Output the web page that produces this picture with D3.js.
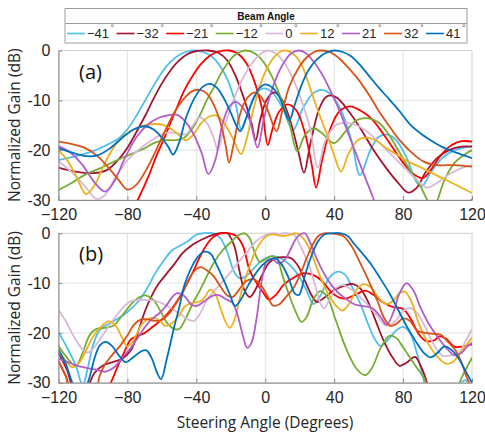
<!DOCTYPE html>
<html>
<head>
<meta charset="utf-8">
<script src="https://cdn.jsdelivr.net/npm/d3@7/dist/d3.min.js"></script>
<style>
  html, body { margin: 0; padding: 0; background: #fff; }
  svg { display: block; }
</style>
</head>
<body>
<svg id="chart" width="485" height="435"></svg>
<script>
// Beam steering angles (degrees) and their line colours
const beamAngles = ["−41", "−32", "−21", "−12", "0", "12", "21", "32", "41"];
const beamColors = ["#4DBEEE", "#A2142F", "#FF0000", "#77AC30", "#D8B9D6", "#EDB120", "#B25CCB", "#D95319", "#0072BD"];

// Axis ticks
const xTicks = [-120, -80, -40, 0, 40, 80, 120];
const xTickLabels = ["−120", "−80", "−40", "0", "40", "80", "120"];
const yTicks = [0, -10, -20, -30];
const yTickLabels = ["0", "-10", "-20", "-30"];

// (a) simulated patterns: [steering angle, normalized gain dB]
const simM41 = [[-120,-22],[-110,-21.2],[-100,-20.2],[-90,-18.6],[-85,-17.6],[-80,-15.8],[-75,-13.2],[-70,-10.2],[-65,-7.2],[-60,-4.4],[-55,-2.3],[-50,-0.9],[-45,-0.2],[-41,0],[-36,-0.3],[-31,-1.2],[-26,-3.2],[-21,-6.6],[-17,-11],[-14,-15.8],[-11,-13.5],[-6,-9],[-1,-7.6],[4,-8.4],[10,-11.5],[16,-16],[22,-11.5],[28,-8.5],[33,-7.9],[38,-8.8],[44,-12],[50,-18],[55,-25],[61,-20],[66,-17.3],[71,-16.9],[76,-18],[82,-21.5],[88,-26.5],[91,-27.2],[96,-24.5],[103,-21.5],[110,-20],[120,-19.2]];
const simM32 = [[-120,-23.5],[-110,-24.3],[-100,-24.6],[-92,-24],[-85,-21.8],[-80,-19.5],[-75,-16.5],[-70,-13.3],[-65,-9.8],[-60,-6.6],[-55,-4],[-50,-2],[-45,-0.7],[-40,-0.1],[-33,0],[-27,-0.5],[-22,-2],[-17,-5.3],[-12,-10],[-8,-14.5],[-5.5,-18],[-3,-14],[1,-9.8],[5,-8.4],[9,-9.5],[14,-13.5],[19,-20],[22.5,-24.5],[26,-19],[31,-12],[35,-9.4],[38,-9],[42,-9.6],[48,-12],[55,-15.5],[62,-19.5],[70,-23.5],[77,-26.5],[83,-28.5],[88,-27.5],[93,-24.5],[100,-21.5],[108,-19.8],[114,-19.3],[120,-19.3]];
const simM21 = [[-84,-37],[-74,-30],[-70,-27],[-67,-24.6],[-63,-21],[-59,-17.9],[-55,-14.5],[-51,-11.2],[-47,-8],[-42,-5],[-37,-2.6],[-32,-1],[-27,-0.2],[-21,0],[-16,-0.6],[-11,-2.5],[-6,-6.5],[-2,-11.5],[1.5,-19],[4,-16],[8,-12.3],[13,-10.8],[18,-12],[23,-16.5],[27,-23],[29.5,-27.5],[33,-22],[38,-15.5],[43,-12.2],[49,-11.2],[55,-12],[62,-13.8],[68,-16.5],[74,-19.5],[80,-22.5],[86,-24.8],[91.5,-25.6],[96,-24],[102,-21],[108,-19],[114,-18.2],[120,-18.3]];
const simM12 = [[-120,-28],[-112,-26.5],[-105,-25],[-95,-23.5],[-86,-22],[-78,-20.8],[-71,-19.8],[-64,-18.5],[-58,-18],[-52,-18],[-47,-17.5],[-42,-15.5],[-38,-13],[-34,-10],[-30,-7.5],[-26,-4.8],[-22,-2.6],[-18,-1],[-14,-0.2],[-11,0],[-6,-0.6],[-1,-2.3],[4,-5.3],[9,-9.5],[14,-14.5],[18.5,-20.2],[23,-17],[28,-15.6],[33,-16.6],[40,-18.6],[46,-16.5],[53,-14],[60,-13.6],[66,-14.5],[72,-17],[78,-20.5],[84,-24],[90,-27.2],[94,-30],[97,-32],[100,-30],[104,-26],[110,-22.5],[116,-20.8],[120,-20]];
const sim0 = [[-120,-22.2],[-112,-24.5],[-104,-27.5],[-98,-29.8],[-93,-29],[-87,-25.5],[-80,-22],[-72,-19.5],[-64,-17.6],[-57,-16.5],[-51,-16.6],[-46,-16.8],[-42,-15],[-38,-13.4],[-34,-14.5],[-30,-17.5],[-27.5,-20],[-24,-15.5],[-19,-10.5],[-14,-6.3],[-9,-3.2],[-4,-1.1],[1,0],[6,-0.6],[11,-2.4],[16,-5.6],[21,-10],[26,-15.5],[30.5,-23.5],[35,-18],[41,-15],[47,-14.5],[53,-15],[60,-16.5],[67,-18.8],[74,-21.2],[81,-23.6],[88,-26],[94,-27.5],[100,-26.5],[107,-24.8],[114,-23.6],[120,-23]];
const sim12 = [[-120,-20],[-115,-22],[-110,-25],[-104,-28.8],[-99,-27],[-93,-22.5],[-86,-18.5],[-79,-16.3],[-72,-15.2],[-66,-14.8],[-61,-14.8],[-56,-15.4],[-50,-17],[-46,-18],[-42,-17],[-37,-14.5],[-32,-13.2],[-28,-13.1],[-24,-14.5],[-19,-17.5],[-14,-20.8],[-11,-18],[-7,-12],[-3,-7],[1,-3.6],[5,-1.4],[9,-0.2],[12,0],[16,-0.6],[21,-2.8],[26,-7.5],[31,-12.5],[36,-17],[40,-21],[44,-24.3],[48,-21],[53,-18.2],[58,-17.5],[64,-18],[70,-19.5],[76,-20.8],[83,-22.3],[90,-23.4],[98,-24.8],[105,-26],[112,-27.2],[120,-28.6]];
const sim21 = [[-120,-19.2],[-113,-20.5],[-106,-23],[-99,-26.5],[-93,-28.3],[-88,-26.5],[-82,-22],[-75,-17.5],[-68,-14.8],[-61,-13.4],[-55,-12.9],[-51,-12.9],[-47,-14],[-42,-16.5],[-37,-20.5],[-33,-24.8],[-29,-22],[-25,-15],[-21,-11.3],[-17,-10.3],[-13,-11.5],[-9,-14],[-4.5,-19.5],[-1,-14],[3,-8.8],[7,-5],[11,-2.3],[15,-0.6],[19,0],[23,-0.4],[28,-2.2],[33,-4.8],[38,-8.2],[43,-12],[48,-16.5],[53,-21],[58,-25.5],[62,-29],[66,-33],[72,-39],[90,-45],[108,-38],[115,-33],[120,-29.8]];
const sim32 = [[-120,-18.3],[-112,-18.8],[-105,-19.5],[-98,-21],[-91,-23.5],[-85,-26],[-80,-27.9],[-75,-27],[-70,-24.5],[-64,-20.5],[-58,-16],[-52,-12],[-46,-9.2],[-42,-8.1],[-38,-7.9],[-34,-8.6],[-30,-10.8],[-26,-14.5],[-23,-19],[-21,-22.5],[-18.5,-19],[-15,-13.2],[-11,-9.8],[-6,-8.4],[-2,-9.5],[2,-12.5],[6.5,-16.2],[10,-12],[14,-7.2],[19,-3.7],[24,-1.4],[29,-0.2],[33,0],[38,-0.4],[43,-1.6],[48,-3.4],[54,-5.8],[60,-8.8],[66,-12.2],[72,-15.2],[78,-18],[85,-20.5],[92,-22.3],[100,-23],[110,-23],[120,-23.3]];
const sim41 = [[-120,-19.6],[-112,-20.5],[-104,-21.2],[-97,-21],[-90,-19.6],[-83,-17.5],[-76,-15.8],[-70,-15.2],[-65,-15.8],[-60,-17.5],[-56,-19.5],[-53.5,-20.9],[-50,-18.5],[-46,-13.5],[-41,-9.5],[-36,-7.2],[-32,-6.7],[-28,-7.5],[-24,-9.6],[-20,-12.5],[-16,-15.6],[-14.5,-16.2],[-11,-13.5],[-7,-9.8],[-3,-7.4],[0,-6.8],[4,-7.4],[8,-9.2],[11,-11.8],[14,-14],[17,-11],[21,-7],[25,-4],[30,-1.8],[35,-0.5],[40,0],[45,-0.3],[50,-1.2],[55,-2.9],[60,-5],[66,-7.5],[72,-9.8],[78,-12.2],[84,-14.8],[90,-16.6],[96,-18],[103,-19.4],[110,-20.4],[120,-21.6]];

// (b) measured patterns: [steering angle, normalized gain dB]
const meaM41 = [[-120,-19.8],[-115,-23],[-110,-26.5],[-106,-30.5],[-103,-27],[-100,-22.5],[-96,-19.4],[-91,-18.2],[-87,-17.4],[-80,-15.8],[-73,-13.4],[-68,-10.7],[-64,-8.1],[-59,-5.5],[-54,-3.4],[-49,-2.4],[-45,-1.6],[-40,-0.3],[-36,0],[-30,0],[-26,-1],[-22,-3.8],[-18,-7.8],[-15,-9],[-11,-8.6],[-6,-6.8],[-1,-5.2],[4,-4.6],[9,-5],[14,-6.3],[19,-8.3],[24,-11.5],[28,-14.2],[32,-12.5],[37,-9],[42,-7.7],[46,-8.2],[50,-10.5],[55,-14],[60,-18.5],[64,-21.5],[67,-22.6],[71,-21.5],[76,-19.5],[80,-18.8],[84,-20],[88,-24],[92,-29.5],[95,-34],[108,-34],[113,-30.5],[116,-29.5],[120,-31]];
const meaM32 = [[-120,-24],[-115,-27.5],[-111,-31],[-104,-31],[-99,-28],[-94,-26.5],[-88,-25.8],[-83,-25.2],[-78,-23.5],[-74,-20],[-70,-15.8],[-66,-12.6],[-62,-10.2],[-57,-8],[-53,-6.3],[-48,-4],[-43,-2.5],[-37,-1.3],[-32,-0.5],[-27,0],[-22,0],[-18,-2.5],[-15,-7.5],[-12,-11.5],[-9,-12.8],[-6,-11.5],[-2,-8.5],[2,-6],[6,-5],[11,-4.8],[15,-5],[19,-6.5],[23,-9.5],[27,-12.5],[30,-13.8],[34,-13],[40,-11.4],[46,-10.5],[51,-10.2],[55,-11],[60,-14],[64,-17.5],[69,-21.8],[74,-25],[78,-26.6],[82,-26],[87,-24.8],[90,-26.5],[93,-29],[96,-33],[100,-38]];
const meaM21 = [[-120,-25.6],[-116,-28.5],[-112,-31.5],[-96,-33],[-90,-30.2],[-86,-27],[-82,-24],[-78,-21.3],[-74,-20.6],[-70,-20],[-64,-18.4],[-59,-17],[-54,-15],[-50,-13],[-46,-10.5],[-42,-7.8],[-38,-4.8],[-34,-2.3],[-30,-0.7],[-26,0],[-21,0],[-17,-0.5],[-13,-2.5],[-9,-7.5],[-5,-10],[-1,-12],[2,-13.3],[6,-12.4],[11,-10.2],[16,-9],[22,-8],[28,-8.4],[33,-9.6],[38,-11.7],[43,-12.9],[47,-13.1],[53,-12.2],[58,-11.5],[63,-12.4],[68,-13.8],[74,-14.8],[80,-15.2],[85,-17.5],[89,-20.2],[93,-21.6],[98,-21.5],[101,-20.7],[105,-21.2],[110,-22.8],[115,-22.7],[120,-22.3]];
const meaM12 = [[-120,-22.6],[-115,-25],[-110,-26.6],[-106,-24],[-102,-20.5],[-98,-19.2],[-93,-19],[-88,-18.5],[-83,-16.5],[-78,-14.3],[-73,-12.8],[-69,-12.5],[-65,-13.3],[-61,-15.5],[-57,-18],[-53,-19.2],[-50,-19.2],[-46,-17],[-42,-14],[-38,-11.5],[-34,-8.7],[-30,-6],[-25,-3.5],[-20,-1.8],[-16,-0.5],[-12,0],[-9,-1],[-6,-4],[-3,-5.8],[0,-5.2],[4,-4.6],[7,-5.2],[10,-8.5],[14,-12.5],[18,-16],[21,-17.8],[24,-16.8],[28,-13.2],[32,-11.6],[36,-12.8],[40,-16.5],[44,-20.5],[48,-24],[53,-27.2],[58,-28.5],[62,-27],[67,-23],[72,-20.6],[76,-21],[80,-22.9],[85,-25.5],[88,-27],[92,-29],[96,-32],[108,-34],[114,-29],[120,-25]];
const mea0 = [[-120,-15.4],[-116,-17.5],[-111,-20.8],[-106,-23.3],[-103,-24],[-99,-22.8],[-94,-20.3],[-89,-17.7],[-84,-15.5],[-79,-13.8],[-74,-13.4],[-69,-13.4],[-64,-13.5],[-59,-14.2],[-54,-15.2],[-49,-16.3],[-45,-17.3],[-41.5,-17.6],[-38,-16.2],[-34,-13.5],[-30,-11.7],[-25,-9.8],[-20,-7.8],[-15,-5.6],[-10,-3.5],[-5,-1.5],[0,-0.4],[3,0],[8,-0.1],[13,0],[17,-0.4],[20,-2.2],[23,-4.5],[26,-7],[29,-10.5],[32,-14],[34,-15.1],[37,-13.5],[41,-11],[45,-10.4],[50,-11.3],[55,-12.8],[60,-14.5],[65,-16.6],[70,-18.5],[75,-17.8],[80,-15.6],[84,-15],[88,-16],[93,-18.9],[98,-22.5],[103,-24.6],[108,-24.5],[112,-24.3],[116,-21.8],[120,-19.3]];
const mea12 = [[-120,-23.6],[-116,-25.5],[-112,-26.9],[-108,-26],[-104,-23.5],[-100,-20.8],[-96,-19],[-91,-17.7],[-87,-18.5],[-83,-21],[-80,-22.7],[-77,-21.8],[-74,-19.8],[-71,-18],[-66,-17],[-62,-17.3],[-58,-18.6],[-54,-18],[-50,-16.5],[-47,-14.8],[-43,-14],[-38,-13.7],[-35,-12.8],[-32,-11.3],[-29,-12.2],[-26,-15],[-23,-17.8],[-20.5,-19],[-18,-17.5],[-14,-12],[-10,-7.5],[-6,-3.8],[-2,-1.5],[1,-0.5],[5,-0.2],[9,-0.5],[13,-0.4],[18,0],[22,-1],[26,-3.3],[30,-7],[33.5,-10],[37,-12.5],[41,-14.5],[45,-15.5],[49,-14],[53,-11.3],[57,-10.2],[61,-10.8],[66,-13],[70,-14.2],[74,-13.6],[78,-12],[81,-11.7],[85,-13.8],[89,-18],[95,-22.4],[100,-24.8],[105,-26.2],[109,-25.8],[114,-23.6],[120,-21]];
const mea21 = [[-120,-25.2],[-115,-25.8],[-110,-26.5],[-104,-27],[-98,-27.4],[-93,-27.8],[-88,-27],[-83,-25],[-78,-23],[-74,-21],[-70,-18.9],[-66,-17.3],[-62,-16.2],[-58,-14.8],[-54,-12.8],[-51,-12],[-47,-12.6],[-43,-14.3],[-40,-14.6],[-36,-13.8],[-31,-12.6],[-27,-12.4],[-23,-13.2],[-19,-14],[-16,-16.5],[-13,-20.5],[-10.5,-23],[-8,-22],[-5,-17],[-2,-9.5],[1,-5.5],[4,-5.2],[8,-6.1],[12,-5],[15,-3],[18,-1],[21,-0.1],[23,0],[26,-1.8],[30,-5.2],[34,-8],[38,-10.2],[42,-11.8],[47,-13.2],[52,-14.3],[57,-14.6],[62,-15],[67,-16.8],[70.5,-18.4],[74,-16.2],[78,-12],[82,-10],[86,-11.5],[90,-14.8],[95,-18.2],[100,-20.8],[105,-23],[110,-24.5],[114,-24],[117,-22.8],[120,-22]];
const mea32 = [[-120,-25.8],[-116,-28.5],[-112,-32],[-100,-33],[-96,-28.5],[-93,-26.3],[-89,-24.5],[-84,-22.5],[-80,-20.5],[-76,-18.3],[-72,-17.3],[-68,-17.3],[-64,-17.6],[-60,-17.4],[-56,-16.2],[-52,-14.2],[-48,-12],[-44,-9],[-40,-7.2],[-37.5,-6.8],[-34,-7.4],[-30,-8.6],[-26,-10.7],[-22,-12.5],[-19,-12.8],[-15,-11.2],[-11,-9.6],[-7,-9.2],[-3,-10.2],[1,-12.4],[4.5,-14.5],[8,-14.3],[12,-12.8],[16,-11.2],[20,-8.5],[24,-5],[28,-2],[31,-0.5],[34,0],[40,-0.1],[45,-0.5],[50,-2.5],[55,-5.9],[60,-9.5],[65,-13.5],[69,-17],[72.5,-18.6],[76,-18.2],[80,-17.1],[84,-17.6],[88,-19.5],[93,-20],[98,-20.2],[102,-20.4],[106,-21.8],[110,-23.3],[114,-26],[117,-29],[120,-31]];
const mea41 = [[-120,-23.3],[-116,-26],[-112,-30],[-108,-33],[-103,-30],[-99,-25],[-96,-22.5],[-92.5,-21.8],[-89,-22.6],[-85,-24.5],[-81,-25.9],[-77,-25],[-72,-23.7],[-69,-23.5],[-66,-25],[-63,-27.8],[-60.5,-29.3],[-57,-25],[-53,-19],[-50,-15],[-47,-10.5],[-43,-7],[-39,-4.7],[-35.5,-3.7],[-32,-4],[-28,-6.5],[-24,-9.5],[-20.5,-12.3],[-17.5,-14.6],[-14,-13.2],[-10,-10.5],[-6,-8.3],[-2,-6.5],[2,-5.4],[5.5,-5],[9,-6],[13,-8.5],[17,-12],[19.5,-12.4],[23,-8.5],[26,-5.3],[30,-2],[34,-0.3],[38,0],[44,0],[48,-0.6],[52,-2.3],[57,-4.3],[62,-6.5],[67,-9.2],[72,-12],[77,-15.3],[82,-18.6],[87,-21.5],[92,-24],[96,-24.9],[100,-24],[104,-22.7],[108,-23.4],[112,-25],[116,-27.5],[120,-30]];

const simSeries = [simM41, simM32, simM21, simM12, sim0, sim12, sim21, sim32, sim41];
const meaSeries = [meaM41, meaM32, meaM21, meaM12, mea0, mea12, mea21, mea32, mea41];

const svg = d3.select("#chart");
const tickFont = "'Liberation Sans', Arial, sans-serif";
const labelFont = "'Open Sans', 'Noto Sans', sans-serif";
const textColor = "#262626";

const x = d3.scaleLinear().domain([-120, 120]).range([58.5, 472]);

const panels = [
  { id: "a", tag: "(a)", data: simSeries, top: 50.5, bottom: 200 },
  { id: "b", tag: "(b)", data: meaSeries, top: 233.3, bottom: 382.7 }
];

const line = d3.line().curve(d3.curveCatmullRom.alpha(0.5));

panels.forEach(p => {
  const y = d3.scaleLinear().domain([-30, 0]).range([p.bottom, p.top]);
  const g = svg.append("g");
  const [x0, x1] = x.range();

  // grid
  g.append("g").selectAll("line").data(xTicks.slice(1, -1)).join("line")
    .attr("x1", d => x(d)).attr("x2", d => x(d))
    .attr("y1", p.top).attr("y2", p.bottom)
    .attr("stroke", "#e3e3e3").attr("stroke-width", 1);
  g.append("g").selectAll("line").data(yTicks.slice(1, -1)).join("line")
    .attr("x1", x0).attr("x2", x1)
    .attr("y1", d => y(d)).attr("y2", d => y(d))
    .attr("stroke", "#e3e3e3").attr("stroke-width", 1);

  // frame
  g.append("rect").attr("x", x0).attr("y", p.top)
    .attr("width", x1 - x0).attr("height", p.bottom - p.top)
    .attr("fill", "none").attr("stroke", "#d0d0d0").attr("stroke-width", 1);

  // curves
  const clipId = "clip-" + p.id;
  svg.append("clipPath").attr("id", clipId).append("rect")
    .attr("x", x0).attr("y", p.top - 1.5)
    .attr("width", x1 - x0).attr("height", p.bottom - p.top + 1.5);
  const lineGen = line.x(d => x(d[0])).y(d => y(d[1]));
  g.append("g").attr("clip-path", `url(#${clipId})`)
    .selectAll("path").data(p.data).join("path")
    .attr("d", d => lineGen(d))
    .attr("fill", "none")
    .attr("stroke", (d, i) => beamColors[i])
    .attr("stroke-width", 1.8)
    .attr("stroke-linejoin", "round");

  // axes
  const xAxis = d3.axisBottom(x).tickValues(xTicks)
    .tickFormat((d, i) => xTickLabels[i]).tickSizeInner(-4).tickSizeOuter(0).tickPadding(9);
  const ax = g.append("g").attr("transform", `translate(0,${p.bottom})`).call(xAxis);
  ax.select(".domain").attr("stroke", "#8a8a8a");
  ax.selectAll(".tick line").attr("stroke", "#8a8a8a");
  ax.selectAll("text").attr("font-family", tickFont).attr("font-size", 16).attr("fill", textColor);

  const yAxis = d3.axisLeft(y).tickValues(yTicks)
    .tickFormat((d, i) => yTickLabels[i]).tickSizeInner(-4).tickSizeOuter(0).tickPadding(8);
  const ay = g.append("g").attr("transform", `translate(${x0},0)`).call(yAxis);
  ay.select(".domain").attr("stroke", "#8a8a8a");
  ay.selectAll(".tick line").attr("stroke", "#8a8a8a");
  ay.selectAll("text").attr("font-family", tickFont).attr("font-size", 16).attr("fill", textColor);

  // y axis title
  g.append("text")
    .attr("transform", `translate(20,${(p.top + p.bottom) / 2}) rotate(-90)`)
    .attr("text-anchor", "middle")
    .attr("font-family", labelFont).attr("font-size", 15.5).attr("fill", textColor)
    .text("Normalized Gain (dB)");

  // panel tag
  g.append("text").attr("x", 79).attr("y", p.top + 28)
    .attr("font-family", labelFont).attr("font-size", 20).attr("fill", "#111")
    .text(p.tag);
});

// x axis title
svg.append("text").attr("x", 265).attr("y", 428).attr("text-anchor", "middle")
  .attr("font-family", labelFont).attr("font-size", 15.5).attr("fill", textColor)
  .text("Steering Angle (Degrees)");

// legend
const lg = svg.append("g");
const lgX0 = 65, lgX1 = 467, lgY0 = 8.5, lgY1 = 43, lgSep = 23.5;
lg.append("rect").attr("x", lgX0).attr("y", lgY0).attr("width", lgX1 - lgX0).attr("height", lgY1 - lgY0)
  .attr("fill", "#fff").attr("stroke", "#a0a0a0").attr("stroke-width", 1);
lg.append("line").attr("x1", lgX0).attr("x2", lgX1).attr("y1", lgSep).attr("y2", lgSep)
  .attr("stroke", "#a0a0a0").attr("stroke-width", 1);
lg.append("text").attr("x", (lgX0 + lgX1) / 2).attr("y", 20)
  .attr("text-anchor", "middle").attr("font-family", tickFont).attr("font-weight", "bold")
  .attr("font-size", 10).attr("fill", "#111").text("Beam Angle");

// build entries, then spread them evenly across the legend row
const rowY = 33.5, sampleLen = 18, sampleGap = 2;
const entries = beamAngles.map((lab, i) => {
  const eg = lg.append("g");
  eg.append("line").attr("x1", 0).attr("x2", sampleLen).attr("y1", rowY).attr("y2", rowY)
    .attr("stroke", beamColors[i]).attr("stroke-width", 1.6);
  const t = eg.append("text").attr("x", sampleLen + sampleGap).attr("y", rowY + 4.8)
    .attr("font-family", tickFont).attr("font-size", 13).attr("fill", textColor);
  t.append("tspan").text(lab);
  t.append("tspan").attr("dx", 1.5).attr("dy", -7).attr("font-size", 9).attr("fill", "#555").text("°");
  const w = sampleLen + sampleGap + t.node().getComputedTextLength();
  return { eg, w };
});
const innerL = lgX0 + 2, innerR = lgX1 - 3;
const totalW = d3.sum(entries, e => e.w);
const gap = (innerR - innerL - totalW) / (entries.length - 1);
let cx = innerL;
entries.forEach(e => {
  e.eg.attr("transform", `translate(${cx},0)`);
  cx += e.w + gap;
});
</script>
</body>
</html>
